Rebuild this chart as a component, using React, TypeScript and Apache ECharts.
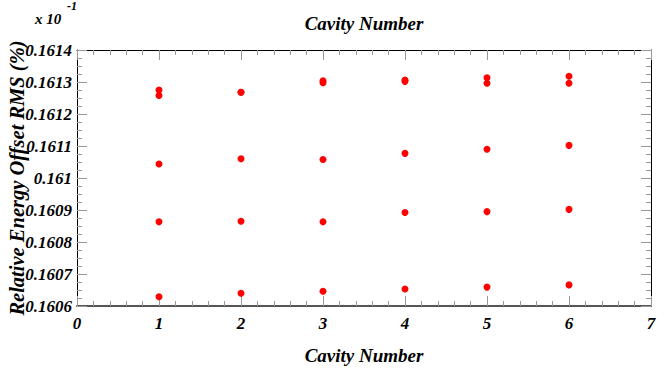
import React, { useEffect, useRef } from "react";
import * as echarts from "echarts";

const cavities = [1, 2, 3, 4, 5, 6];
const topA = [0.161275, 0.161268, 0.161304, 0.161306, 0.161313, 0.161318];
const topB = [0.161258, 0.161268, 0.161298, 0.161302, 0.161296, 0.161296];
const upper = [0.161044, 0.16106, 0.161058, 0.161077, 0.16109, 0.161102];
const middle = [0.160863, 0.160865, 0.160863, 0.160892, 0.160895, 0.160902];
const lower = [0.160629, 0.16064, 0.160646, 0.160653, 0.160659, 0.160666];
const xTicks = [0, 1, 2, 3, 4, 5, 6, 7];
const yMin = 0.1606;
const yMax = 0.1614;

const FONT = "'Liberation Serif', 'Times New Roman', Times, serif";

export default function App() {
  const ref = useRef<HTMLDivElement>(null);
  useEffect(() => {
    if (!ref.current) return;
    const chart = echarts.init(ref.current, undefined, { renderer: "svg" });
    const points: number[][] = [];
    [topA, topB, upper, middle, lower].forEach((arr) =>
      arr.forEach((v, i) => points.push([cavities[i], v]))
    );
    const labelStyle = {
      fontFamily: FONT,
      fontWeight: "bold" as const,
      fontStyle: "italic" as const,
      fontSize: 17,
      color: "#000",
    };
    const nameStyle = { ...labelStyle, fontSize: 19 };
    const yNameStyle = { ...labelStyle, fontSize: 20.5 };
    const tickStyle = { lineStyle: { color: "#999", width: 1 } };
    chart.setOption({
      animation: false,
      backgroundColor: "#fff",
      grid: {
        left: 77,
        right: 14,
        top: 50,
        bottom: 66,
        containLabel: false,
        outerBoundsMode: "none",
      },
      xAxis: [
        {
          type: "value",
          position: "bottom",
          min: xTicks[0],
          max: xTicks[xTicks.length - 1],
          interval: 1,
          name: "Cavity Number",
          nameLocation: "middle",
          nameGap: 40,
          nameMoveOverlap: false,
          nameTextStyle: nameStyle,
          axisLine: { show: true, onZero: false, lineStyle: { color: "#555", width: 2 } },
          axisTick: { show: true, inside: true, length: 10, ...tickStyle },
          minorTick: { show: true, splitNumber: 5, length: 5, ...tickStyle },
          axisLabel: { ...labelStyle, margin: 9 },
          splitLine: { show: false },
        },
        {
          type: "value",
          position: "top",
          min: xTicks[0],
          max: xTicks[xTicks.length - 1],
          interval: 1,
          name: "Cavity Number",
          nameLocation: "middle",
          nameGap: 17,
          nameMoveOverlap: false,
          nameTextStyle: nameStyle,
          axisLine: { show: true, onZero: false, lineStyle: { color: "#000", width: 1 } },
          axisTick: { show: true, inside: true, length: 10, ...tickStyle },
          minorTick: { show: true, splitNumber: 5, length: 5, ...tickStyle },
          axisLabel: { show: false },
          splitLine: { show: false },
        },
      ],
      yAxis: [
        {
          type: "value",
          position: "left",
          min: yMin,
          max: yMax,
          interval: 0.0001,
          name: "Relative Energy Offset RMS (%)",
          nameLocation: "middle",
          nameGap: 50,
          nameMoveOverlap: false,
          nameRotate: 90,
          nameTextStyle: yNameStyle,
          axisLine: { show: true, onZero: false, lineStyle: { color: "#000", width: 1 } },
          axisTick: { show: true, inside: true, length: 10, ...tickStyle },
          minorTick: { show: true, splitNumber: 4, length: 5, ...tickStyle },
          axisLabel: {
            ...labelStyle,
            margin: 5,
            formatter: (v: number) => String(parseFloat(v.toFixed(4))),
          },
          splitLine: { show: false },
        },
        {
          type: "value",
          position: "right",
          min: yMin,
          max: yMax,
          interval: 0.0001,
          axisLine: { show: true, onZero: false, lineStyle: { color: "#000", width: 1 } },
          axisTick: { show: true, inside: true, length: 10, ...tickStyle },
          minorTick: { show: true, splitNumber: 4, length: 5, ...tickStyle },
          axisLabel: { show: false },
          splitLine: { show: false },
        },
      ],
      graphic: [
        {
          type: "text",
          left: 35,
          top: 11,
          style: { text: "x 10", fontFamily: FONT, fontWeight: "bold", fontStyle: "italic", fontSize: 15, fill: "#000" },
        },
        {
          type: "text",
          left: 67,
          top: 0,
          style: { text: "-1", fontFamily: FONT, fontWeight: "bold", fontStyle: "italic", fontSize: 12, fill: "#000" },
        },
      ],
      series: [
        {
          type: "scatter",
          xAxisIndex: 0,
          yAxisIndex: 0,
          symbol: "circle",
          symbolSize: 7,
          itemStyle: { color: "#ff0000", opacity: 1 },
          data: points,
        },
      ],
    });
    return () => chart.dispose();
  }, []);
  return (
    <div
      ref={ref}
      style={{ position: "fixed", left: 0, top: 0, width: 665, height: 372 }}
    />
  );
}
